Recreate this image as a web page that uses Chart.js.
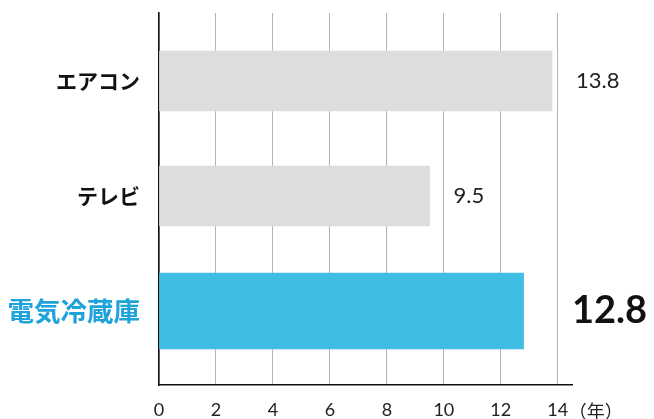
<!DOCTYPE html>
<html>
<head>
<meta charset="utf-8">
<script src="https://cdn.jsdelivr.net/npm/chart.js@4"></script>
<style>
  html, body { margin: 0; padding: 0; background: #fff; }
  #wrap { width: 654px; height: 419px; position: relative; }
</style>
</head>
<body>
<div id="wrap"><canvas id="chart"></canvas></div>
<script>
// 平均使用年数
const categories = ['エアコン', 'テレビ', '電気冷蔵庫'];
const years = [13.8, 9.5, 12.8];
const xTicks = [0, 2, 4, 6, 8, 10, 12, 14];
const unitLabel = '（年）';
const highlight = 2; // 電気冷蔵庫

const GREY = '#dcdddd';
const BLUE = '#40bde4';
const BLUE_TEXT = '#1ea3da';
const NUM_FONT = 'Lato, "Noto Sans", sans-serif';
const JP_FONT = '"Noto Sans CJK JP", sans-serif';

// 通常バーと強調バーを分ける（太さが違うため）
const normalData = categories.map((c, i) => ({ x: i === highlight ? null : years[i], y: i }));
const highData = categories.map((c, i) => ({ x: i === highlight ? years[i] : null, y: i }));

// 値ラベル + 単位
const valueLabels = {
    id: 'valueLabels',
    afterDatasetsDraw(chart) {
        const ctx = chart.ctx;
        const area = chart.chartArea;
        ctx.save();
        ctx.textBaseline = 'middle';
        ctx.textAlign = 'left';
        chart.data.datasets.forEach((ds, di) => {
            const meta = chart.getDatasetMeta(di);
            meta.data.forEach((bar, i) => {
                if (ds.data[i].x == null) return;
                if (i === highlight) {
                    ctx.font = 'bold 38px ' + NUM_FONT;
                    ctx.fillStyle = '#111';
                    ctx.fillText(String(years[i]), area.right, bar.y);
                } else {
                    ctx.font = '22px ' + NUM_FONT;
                    ctx.fillStyle = '#222';
                    ctx.fillText(String(years[i]), bar.x + 24, bar.y);
                }
            });
        });
        // 単位 (年)
        const xs = chart.scales.x;
        ctx.font = '18px ' + JP_FONT;
        ctx.fillStyle = '#222';
        ctx.fillText(unitLabel, xs.getPixelForValue(14) + 11, xs.top + 26);
        ctx.restore();
    }
};

new Chart(document.getElementById('chart'), {
    type: 'bar',
    data: {
        datasets: [
            { data: normalData, backgroundColor: GREY, barThickness: 60, grouped: false, skipNull: true },
            { data: highData, backgroundColor: BLUE, barThickness: 76, grouped: false, skipNull: true }
        ]
    },
    options: {
        indexAxis: 'y',
        responsive: true,
        maintainAspectRatio: false,
        animation: false,
        layout: { padding: { top: 13, right: 82, left: 0, bottom: 0 } },
        plugins: { legend: { display: false }, tooltip: { enabled: false } },
        scales: {
            x: {
                type: 'linear',
                min: 0,
                max: 14.5,
                afterBuildTicks: s => { s.ticks = xTicks.map(v => ({ value: v })); },
                afterFit: s => { s.height = 34; },
                grid: { color: '#b4b4b4', lineWidth: 1, drawTicks: false },
                border: { color: '#111', width: 1.5 },
                ticks: {
                    color: '#222',
                    padding: 14,
                    font: { family: NUM_FONT, size: 18 }
                }
            },
            y: {
                type: 'linear',
                reverse: true,
                offset: false,
                min: -0.591,
                max: 2.643,
                afterBuildTicks: s => { s.ticks = categories.map((c, i) => ({ value: i })); },
                afterFit: s => { s.width = 159; s.paddingTop = 0; s.paddingBottom = 0; },
                grid: { display: false },
                border: { color: '#111', width: 1.5 },
                ticks: {
                    padding: 11,
                    callback: v => categories[v],
                    color: c => c.index === highlight ? BLUE_TEXT : '#111',
                    font: c => c.index === highlight
                        ? { family: JP_FONT, size: 26.5, weight: 'bold' }
                        : { family: JP_FONT, size: 21, weight: 'bold' }
                }
            }
        }
    },
    plugins: [valueLabels]
});
</script>
</body>
</html>
